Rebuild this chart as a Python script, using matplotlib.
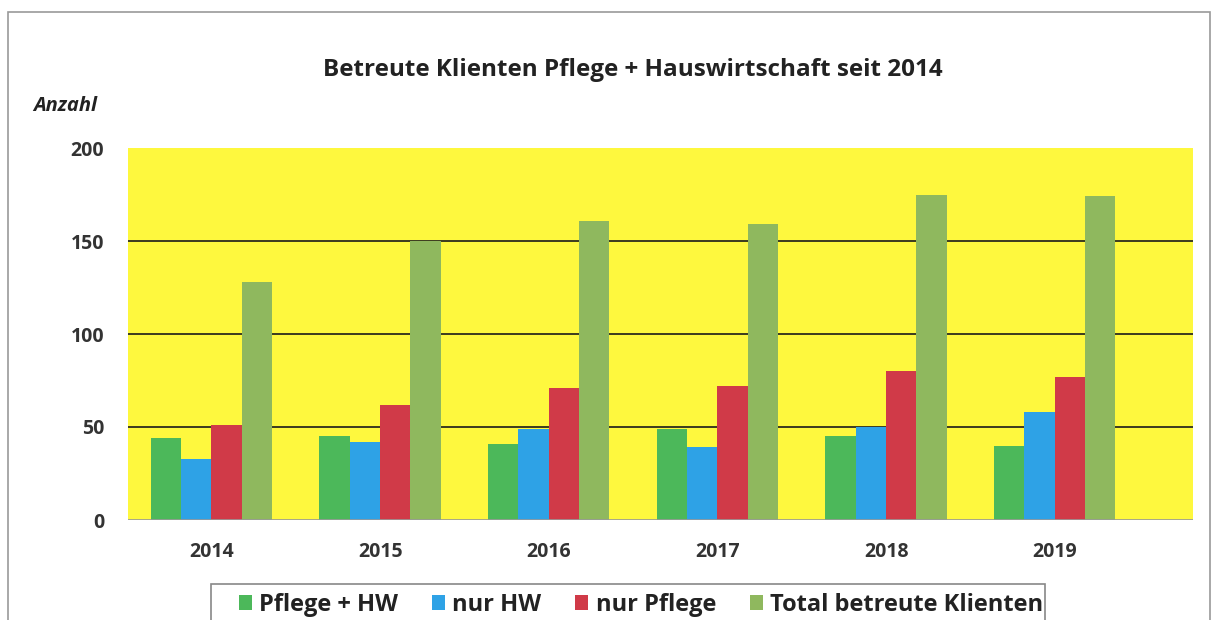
import numpy as np
import matplotlib
matplotlib.use('Agg')
import matplotlib.pyplot as plt
from matplotlib.patches import Rectangle

plt.rcParams['font.family'] = ['Open Sans', 'DejaVu Sans']

years = ['2014', '2015', '2016', '2017', '2018', '2019']
pflege_hw = [44, 45, 41, 49, 45, 40]
nur_hw = [33, 42, 49, 39, 50, 58]
nur_pflege = [51, 62, 71, 72, 80, 77]
total = [128, 150, 161, 159, 175, 174]

series = [
    ('Pflege + HW', pflege_hw, '#4cb85a'),
    ('nur HW', nur_hw, '#2ea2e6'),
    ('nur Pflege', nur_pflege, '#d03a48'),
    ('Total betreute Klienten', total, '#8fb85e'),
]

W, H = 1219, 620
fig = plt.figure(figsize=(W / 100, H / 100), dpi=100)
fig.patch.set_facecolor('white')

# outer chart frame
fig.add_artist(Rectangle((8 / W, -0.1), 1202 / W, 1 - 12 / H + 0.1,
                         transform=fig.transFigure, fill=False,
                         edgecolor='#9a9a9a', lw=1.2))
# legend box (cut off at the bottom, like the scan)
fig.add_artist(Rectangle((211 / W, -0.1), (1045 - 211) / W, 1 - 584 / H + 0.1,
                         transform=fig.transFigure, fill=False,
                         edgecolor='#888888', lw=1.2))

ax = fig.add_axes([128 / W, 1 - 520 / H, (1193 - 128) / W, (520 - 148) / H])
ax.set_facecolor('#fef83e')

x = np.arange(len(years))
bw = 0.18
for i, (name, vals, col) in enumerate(series):
    ax.bar(x + (i - 1.5) * bw, vals, bw, color=col, label=name, zorder=3)

ax.set_xlim(-0.495, 5.82)
ax.set_ylim(0, 200)
ax.set_yticks([0, 50, 100, 150, 200])
for v in [50, 100, 150]:
    ax.axhline(v, color='#1a1a1a', lw=1.2, zorder=2)
ax.axhline(0, color='#999999', lw=1.2, zorder=4)
for s in ax.spines.values():
    s.set_visible(False)
ax.tick_params(length=0)
ax.set_xticks(x)
ax.set_xticklabels(years)
ax.tick_params(axis='x', pad=16, labelsize=14, labelcolor='#333333')
ax.tick_params(axis='y', pad=17, labelsize=14, labelcolor='#333333')
for lab in ax.get_xticklabels() + ax.get_yticklabels():
    lab.set_fontweight('bold')

fig.text(633 / W, 1 - 70 / H, 'Betreute Klienten Pflege + Hauswirtschaft seit 2014',
         ha='center', va='center', fontsize=17.5, fontweight='bold', color='#222222')
fig.text(33 / W, 1 - 106 / H, 'Anzahl', ha='left', va='center', fontsize=14.5,
         fontstyle='italic', fontweight='bold', color='#222222')

leg = fig.legend(loc='upper center', bbox_to_anchor=(641 / W, 1 - 581 / H), ncol=4,
                 frameon=False, prop={'size': 17, 'weight': 'bold'},
                 handlelength=0.55, handleheight=0.55, handletextpad=0.3,
                 columnspacing=1.45, borderpad=0.0)
for t in leg.get_texts():
    t.set_color('#222222')

fig.savefig('out.png', dpi=100)
